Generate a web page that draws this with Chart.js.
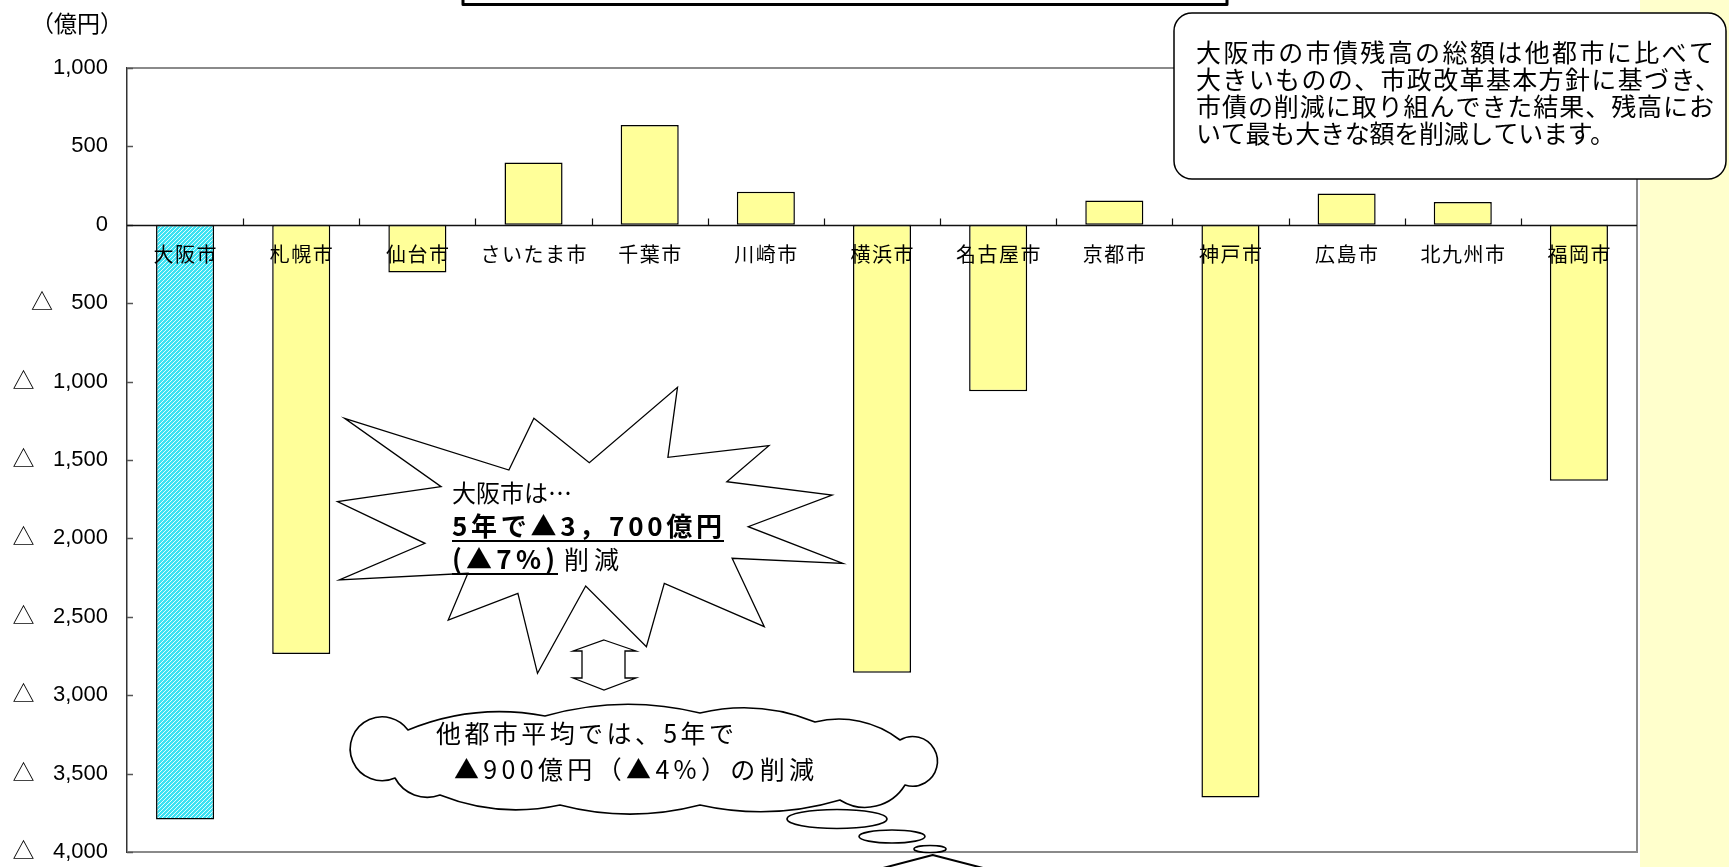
<!DOCTYPE html>
<html><head><meta charset="utf-8">
<script src="https://cdn.jsdelivr.net/npm/chart.js@4.4.1/dist/chart.umd.min.js"></script>
<style>html,body{margin:0;padding:0;background:#fff;overflow:hidden}#wrap{position:relative;width:1729px;height:867px}</style>
</head><body><div id="wrap"><canvas id="c"></canvas></div>
<script>
// ---- data ----
const categories = ['大阪市','札幌市','仙台市','さいたま市','千葉市','川崎市','横浜市','名古屋市','京都市','神戸市','広島市','北九州市','福岡市'];
const changeValues = [-3792, -2737, -305, 397, 637, 210, -2857, -1062, 155, -3652, 200, 145, -1632];
const yMin = -4000, yMax = 1000, yStep = 500;
const unitLabel = '（億円）';
const noteLines = ['大阪市の市債残高の総額は他都市に比べて','大きいものの、市政改革基本方針に基づき、','市債の削減に取り組んできた結果、残高にお','いて最も大きな額を削減しています。'];
const burstLine1 = '大阪市は…';
const burstLine2 = '5年で▲3，700億円';
const burstLine3a = '(▲7%)';
const burstLine3b = '削減';
const cloudLines = ['他都市平均では、5年で','▲900億円（▲4%）の削減'];

const JP = '"Noto Sans CJK JP", "Noto Sans CJK SC", sans-serif';
const LAT = '"Liberation Sans", Arial, "Noto Sans CJK JP", sans-serif';
const fmt = n => n.toLocaleString('en-US');

function hatch() {
  const c = document.createElement('canvas'); c.width = 4; c.height = 4;
  const g = c.getContext('2d');
  g.fillStyle = '#3CE2F2'; g.fillRect(0, 0, 4, 4);
  g.strokeStyle = 'rgba(255,255,255,0.85)'; g.lineWidth = 1;
  g.beginPath();
  g.moveTo(0, 4); g.lineTo(4, 0);
  g.moveTo(-1, 1); g.lineTo(1, -1);
  g.moveTo(3, 5); g.lineTo(5, 3);
  g.stroke();
  return g.createPattern(c, 'repeat');
}

function textW(ctx, t) { ctx.letterSpacing = '0px'; return ctx.measureText(t).width; }
function drawSpaced(ctx, t, x, y, ls) {
  ctx.letterSpacing = ls + 'px';
  ctx.textAlign = 'left';
  ctx.fillText(t, x, y);
  ctx.letterSpacing = '0px';
}
function fitText(ctx, t, x, y, W) {
  const n = [...t].length;
  const ls = n > 1 ? (W - textW(ctx, t)) / (n - 1) : 0;
  drawSpaced(ctx, t, x, y, ls);
  return ls;
}

function cloudPath(ctx, pts) {
  ctx.beginPath();
  for (let i = 0; i < pts.length; i++) {
    const [px, py, s] = pts[i];
    const [qx, qy] = pts[(i + 1) % pts.length];
    const dx = qx - px, dy = qy - py, c = Math.hypot(dx, dy);
    const nx = dy / c, ny = -dx / c;
    const r = (c * c / 4 + s * s) / (2 * s);
    const mx = (px + qx) / 2, my = (py + qy) / 2;
    const cx = mx - nx * (r - s), cy = my - ny * (r - s);
    const a1 = Math.atan2(py - cy, px - cx), a2 = Math.atan2(qy - cy, qx - cx);
    ctx.arc(cx, cy, r, a1, a2, false);
  }
  ctx.closePath();
}

function poly(ctx, pts) {
  ctx.beginPath();
  pts.forEach(([x, y], i) => i ? ctx.lineTo(x, y) : ctx.moveTo(x, y));
  ctx.closePath();
}

const decor = {
  id: 'decor',
  beforeDraw(chart) {
    const {ctx, chartArea: a} = chart;
    ctx.save();
    ctx.fillStyle = '#fff'; ctx.fillRect(0, 0, chart.width, chart.height);
    ctx.fillStyle = '#FFFFCC'; ctx.fillRect(a.right + 3, 0, chart.width - a.right - 3, chart.height);
    ctx.restore();
  },
  afterDatasetsDraw(chart) {
    const {ctx, chartArea: a, scales: {x: xs, y: ys}} = chart;
    ctx.save();
    // frame
    ctx.strokeStyle = '#8a8a8a'; ctx.lineWidth = 2;
    ctx.beginPath();
    ctx.moveTo(a.left, a.top); ctx.lineTo(a.right, a.top); ctx.lineTo(a.right, a.bottom); ctx.lineTo(a.left, a.bottom);
    ctx.stroke();
    // inward y ticks
    ctx.strokeStyle = '#555'; ctx.lineWidth = 1.5;
    ys.ticks.forEach(t => {
      const y = Math.round(ys.getPixelForValue(t.value)) + 0.5;
      ctx.beginPath(); ctx.moveTo(a.left, y); ctx.lineTo(a.left + 6, y); ctx.stroke();
    });
    // zero line
    const y0 = Math.round(ys.getPixelForValue(0)) + 0.5;
    ctx.strokeStyle = '#111'; ctx.lineWidth = 1.5;
    ctx.beginPath(); ctx.moveTo(a.left, y0); ctx.lineTo(a.right, y0); ctx.stroke();
    ctx.lineWidth = 1.2;
    for (let i = 1; i < categories.length; i++) {
      const x = Math.round((xs.getPixelForValue(i - 1) + xs.getPixelForValue(i)) / 2) + 0.5;
      ctx.beginPath(); ctx.moveTo(x, y0); ctx.lineTo(x, y0 - 7); ctx.stroke();
    }
    // category labels
    ctx.fillStyle = '#000'; ctx.font = '20px ' + JP; ctx.textBaseline = 'middle';
    const ls = 1.5;
    categories.forEach((c, i) => {
      const w = textW(ctx, c) + ls * ([...c].length - 1);
      drawSpaced(ctx, c, xs.getPixelForValue(i) - w / 2, y0 + 29, ls);
    });
    ctx.restore();
  },
  afterDraw(chart) {
    const {ctx} = chart;
    ctx.save();
    ctx.lineJoin = 'round';
    // unit label
    ctx.fillStyle = '#000'; ctx.font = '23px ' + JP; ctx.textBaseline = 'middle';
    ctx.textAlign = 'left';
    ctx.fillText(unitLabel, 31, 23);
    // title box (cut at top)
    ctx.fillStyle = '#fff'; ctx.strokeStyle = '#000'; ctx.lineWidth = 3;
    ctx.fillRect(463, -10, 764, 14.5); ctx.strokeRect(463, -10, 764, 14.5);
    // callout note
    ctx.lineWidth = 1.5;
    ctx.beginPath(); ctx.roundRect(1174, 13, 552, 166, 18); ctx.fill(); ctx.stroke();
    ctx.fillStyle = '#000'; ctx.font = '25px ' + JP; ctx.textBaseline = 'middle';
    const noteW = [518, 524, 518, 419];
    noteLines.forEach((t, i) => fitText(ctx, t, 1196, 52 + i * 27, noteW[i]));
    // starburst
    const burst = [[344.6,418.3],[508.9,470],[533.9,418.3],[589.3,462.7],[677.5,387.3],[667.9,457.3],[768.9,445.7],[726.8,481.7],[832.1,495],[748.2,526.7],[842.9,563.3],[732.1,558.3],[764.3,626.7],[664.3,583.3],[646.4,646.7],[585.7,586],[537.5,673.3],[517.9,593.3],[448.2,620],[467.9,573.3],[339.3,580],[425,543.3],[337.5,501.7],[441.1,486.7]];
    ctx.fillStyle = '#fff'; ctx.strokeStyle = '#000'; ctx.lineWidth = 1.3; ctx.lineJoin = 'miter';
    poly(ctx, burst); ctx.fill(); ctx.stroke();
    ctx.fillStyle = '#000'; ctx.textBaseline = 'middle';
    ctx.font = '24px ' + JP;
    drawSpaced(ctx, burstLine1, 452, 493, 0);
    ctx.font = 'bold 26px ' + JP;
    fitText(ctx, burstLine2, 452, 526, 270);
    ctx.fillRect(452, 540, 272, 2);
    fitText(ctx, burstLine3a, 452, 559, 103);
    ctx.fillRect(452, 573, 106, 2);
    ctx.font = '25px ' + JP;
    drawSpaced(ctx, burstLine3b, 564, 559, 5);
    // double arrow
    const arrow = [[604,640],[636,651],[625,651],[625,678],[636,678],[604,690],[573,678],[582,678],[582,651],[573,651]];
    ctx.fillStyle = '#fff'; ctx.lineWidth = 1.3;
    poly(ctx, arrow); ctx.fill(); ctx.stroke();
    // cloud
    const cloud = [[408,730,10],[545,716,10],[700,713,9],[815,722,10],[900,740,35],[905,785,14],[840,800,9],[700,805,9],[560,805,9],[440,795,9],[395,778,52]];
    ctx.lineJoin = 'round'; ctx.lineWidth = 1.6;
    cloudPath(ctx, cloud); ctx.fill(); ctx.stroke();
    ctx.fillStyle = '#000'; ctx.font = '25px ' + JP;
    fitText(ctx, cloudLines[0], 436, 733, 298);
    fitText(ctx, cloudLines[1], 454, 769, 360);
    // thought bubbles
    ctx.fillStyle = '#fff';
    [[837,819,50,9.5],[892,836.5,33,6.5],[930,849,16,3.5]].forEach(([x,y,rx,ry]) => {
      ctx.beginPath(); ctx.ellipse(x, y, rx, ry, 0, 0, Math.PI * 2); ctx.fill(); ctx.stroke();
    });
    ctx.lineWidth = 2;
    ctx.beginPath(); ctx.moveTo(883, 868); ctx.lineTo(932.7, 855); ctx.lineTo(983, 868); ctx.stroke();
    ctx.restore();
  }
};

const ctx = document.getElementById('c').getContext('2d');
const pattern = hatch();
new Chart(ctx, {
  type: 'bar',
  data: {
    labels: categories,
    datasets: [{
      data: changeValues,
      backgroundColor: categories.map((c, i) => i === 0 ? pattern : '#FFFF99'),
      borderColor: '#000',
      borderWidth: 1.5,
      borderSkipped: false,
      barPercentage: 0.5,
      categoryPercentage: 1
    }]
  },
  options: {
    responsive: true,
    maintainAspectRatio: false,
    animation: false,
    devicePixelRatio: 1,
    layout: { padding: { left: 0, top: 68, right: 92, bottom: 15 } },
    plugins: { legend: { display: false }, tooltip: { enabled: false }, title: { display: false } },
    scales: {
      x: { display: false },
      y: {
        min: yMin, max: yMax,
        afterFit: s => { s.width = 127; s.paddingTop = 0; s.paddingBottom = 0; },
        ticks: {
          stepSize: yStep, color: '#000', padding: 19,
          font: { family: LAT, size: 22 },
          callback: v => v < 0 ? '△   ' + fmt(-v) : fmt(v)
        },
        grid: { display: false, drawTicks: false },
        border: { display: true, color: '#333', width: 1.5 }
      }
    }
  },
  plugins: [decor]
});
</script></body></html>
